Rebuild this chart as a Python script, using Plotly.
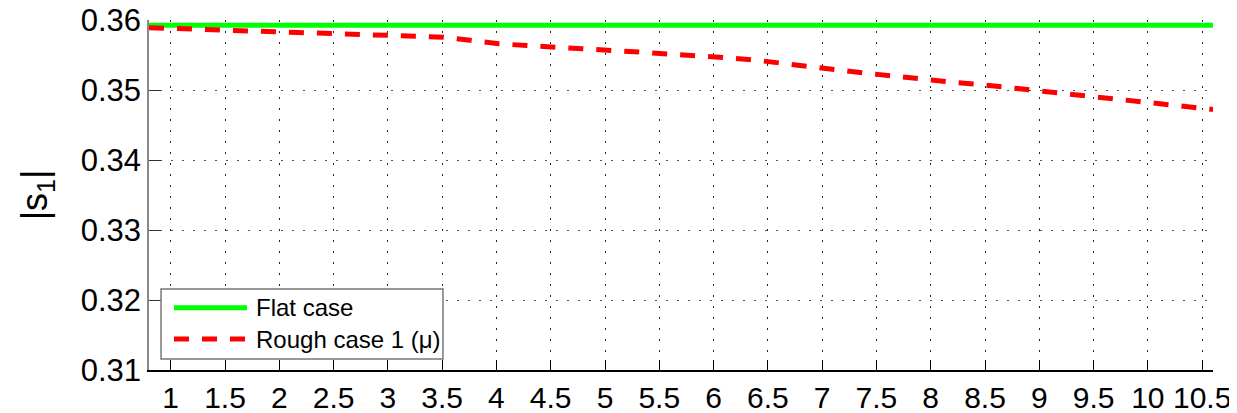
import plotly.graph_objects as go

# ---- data ----
flat_x = [0.8, 10.6]
flat_y = [0.35926, 0.35926]

rough_x = [0.8, 1.12, 1.38, 1.66, 1.92, 2.18, 2.44, 2.71, 2.97, 3.23, 3.51, 3.76,
           4.02, 4.28, 4.55, 4.81, 5.07, 5.33, 5.6, 5.86, 6.12, 6.39, 6.65, 6.91,
           7.17, 7.43, 7.69, 7.98, 8.21, 8.48, 8.74, 9.01, 9.27, 9.54, 9.8, 10.05,
           10.32, 10.6]
rough_y = [0.3589, 0.35874, 0.35869, 0.3585, 0.3584, 0.35831, 0.35817, 0.35803,
           0.35789, 0.35774, 0.35755, 0.3571, 0.3566, 0.35636, 0.35617, 0.3559,
           0.35564, 0.3554, 0.35517, 0.3549, 0.3546, 0.35426, 0.35383, 0.35336,
           0.35283, 0.35236, 0.3519, 0.3515, 0.3511, 0.35074, 0.35031, 0.34993,
           0.3495, 0.34903, 0.3486, 0.34817, 0.34769, 0.34722]

x_ticks = [1, 1.5, 2, 2.5, 3, 3.5, 4, 4.5, 5, 5.5, 6, 6.5, 7, 7.5, 8, 8.5, 9, 9.5, 10, 10.5]
x_tick_labels = ["1", "1.5", "2", "2.5", "3", "3.5", "4", "4.5", "5", "5.5", "6", "6.5",
                 "7", "7.5", "8", "8.5", "9", "9.5", "10", "10.5"]
y_ticks = [0.31, 0.32, 0.33, 0.34, 0.35, 0.36]
y_tick_labels = ["0.31", "0.32", "0.33", "0.34", "0.35", "0.36"]

series_names = ["Flat case", "Rough case 1 (\u03bc)"]
series_colors = ["#00FF00", "#FF0000"]
series_dash = ["solid", "15px,13px"]

FONT = "Liberation Sans, Arial, sans-serif"

fig = go.Figure()
fig.add_trace(go.Scatter(x=flat_x, y=flat_y, mode="lines", name=series_names[0],
                         line=dict(color=series_colors[0], width=5)))
fig.add_trace(go.Scatter(x=rough_x, y=rough_y, mode="lines", name=series_names[1],
                         line=dict(color=series_colors[1], width=5, dash=series_dash[1])))

# ---- custom legend box (paper coords = plot area) ----
box = dict(x0=0.0113, x1=0.2763, y0=0.0314, y1=0.2311)
row_y = [0.1777, 0.0884]
line_x = [0.0235, 0.0921]
text_x = 0.0985

shapes = [dict(type="rect", xref="paper", yref="paper", layer="above",
               x0=box["x0"], x1=box["x1"], y0=box["y0"], y1=box["y1"],
               fillcolor="white", line=dict(color="#777", width=1.5))]
annotations = []
for name, col, dsh, yy in zip(series_names, series_colors, series_dash, row_y):
    shapes.append(dict(type="line", xref="paper", yref="paper", layer="above",
                       x0=line_x[0], x1=line_x[1], y0=yy, y1=yy,
                       line=dict(color=col, width=5, dash=dsh)))
    annotations.append(dict(xref="paper", yref="paper", x=text_x, y=yy,
                            xanchor="left", yanchor="middle", showarrow=False,
                            text=name, font=dict(size=24, family=FONT, color="black")))

# page body has an 8px default margin: figure sized/margined to compensate
fig.update_layout(
    width=1229, height=405,
    margin=dict(l=141, r=24, t=11.5, b=43, autoexpand=False),
    paper_bgcolor="white", plot_bgcolor="white",
    font=dict(family=FONT, color="black", size=31),
    showlegend=False,
    shapes=shapes, annotations=annotations,
)
fig.update_xaxes(
    range=[0.8, 10.6], tickmode="array", tickvals=x_ticks, ticktext=x_tick_labels,
    showgrid=True, gridcolor="#222", griddash="2px,9px", gridwidth=1,
    showline=True, linecolor="black", linewidth=1.5,
    ticks="inside", ticklen=10, tickcolor="black", tickwidth=1,
    tickfont=dict(size=30, family=FONT), zeroline=False, automargin=False,
    ticklabeloverflow="allow",
)
fig.update_yaxes(
    range=[0.31, 0.36], tickmode="array", tickvals=y_ticks, ticktext=y_tick_labels,
    showgrid=True, gridcolor="#555", griddash="2px,9px", gridwidth=1,
    showline=True, linecolor="#888", linewidth=1.5,
    ticks="inside", ticklen=12, tickcolor="#333", tickwidth=1,
    tickfont=dict(size=31, family=FONT), zeroline=False, automargin=False,
    ticklabeloverflow="allow",
    title=dict(text="|s<sub>1</sub>|", font=dict(size=36, family=FONT), standoff=22),
)

fig.write_html("out.html")
